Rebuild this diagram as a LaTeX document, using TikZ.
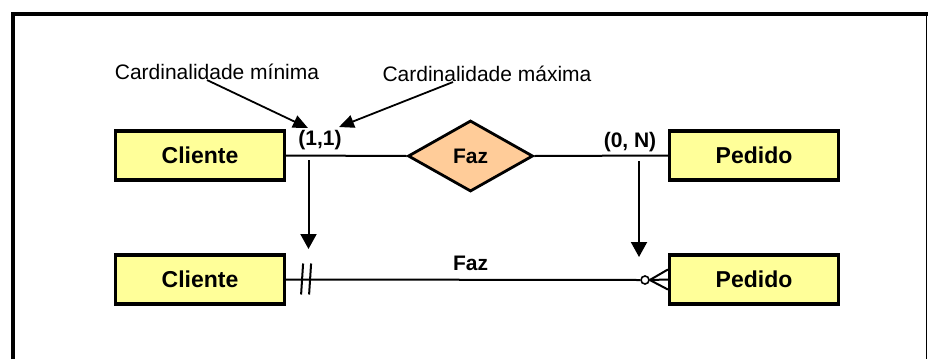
\documentclass[tikz,border=0pt]{standalone}
\usepackage{fontspec}
\setmainfont{Liberation Sans}
\usetikzlibrary{arrows.meta,shapes.geometric,shadows,calc}
\definecolor{entfill}{HTML}{FFFF99}
\definecolor{relfill}{HTML}{FFCC99}
\begin{document}
\begin{tikzpicture}[x=1pt,y=-1pt,
  entity/.style={draw, line width=3.2pt, fill=entfill, minimum width=169pt, minimum height=49pt,
    inner sep=0pt, font=\fontsize{23}{27}\selectfont\bfseries,
    drop shadow={shadow xshift=1.5pt, shadow yshift=-1.5pt, fill=black!30, opacity=1}},
  rel/.style={draw, diamond, line width=2.8pt, fill=relfill, minimum width=125pt, minimum height=71pt,
    inner sep=0pt, font=\fontsize{21}{25}\selectfont\bfseries},
  card/.style={inner sep=0pt, font=\fontsize{21}{25}\selectfont\bfseries},
  note/.style={inner sep=0pt, font=\fontsize{21}{25}\selectfont},
  conn/.style={line width=2pt},
  annot/.style={line width=1.8pt, -{Triangle[length=15pt,width=13pt]}},
  vert/.style={line width=2pt, -{Triangle[length=15pt,width=16pt]}}]
\useasboundingbox (0,0) rectangle (928,359);
\fill[white] (0,0) rectangle (928,359);
% frame
\draw[line width=4.5pt] (13,359) -- (13,14) -- (928,14);
\draw[line width=1.8pt] (926.5,14) -- (926.5,359);
% nodes
\node[entity] (c1) at (200,155.5) {Cliente};
\node[entity] (p1) at (754,155.5) {Pedido};
\node[entity] (c2) at (200,279.5) {Cliente};
\node[entity] (p2) at (754,279.5) {Pedido};
\node[rel] (faz) at (470.5,156) {Faz};
\node[card] (l11) at (320,140) {(1,1)};
\node[card] (l0n) at (630,142) {(0, N)};
\node[note] (cmin) at (217,72) {Cardinalidade mínima};
\node[note] (cmax) at (487,74) {Cardinalidade máxima};
\node[card] (fazlbl) at (470.5,263) {Faz};
% top relation lines
\draw[conn] (c1.east) -- (faz.west);
\draw[conn] (faz.east) -- (p1.west);
% annotation arrows
\coordinate (t1) at (308,128);
\coordinate (t2) at (339,127);
\draw[annot] ($(cmin.south)+(-10,0)$) -- (t1);
\draw[annot] ($(cmax.south)+(-34,0)$) -- (t2);
% vertical arrows
\coordinate (v1s) at (308.5,160);
\coordinate (v1e) at (308.5,249);
\coordinate (v2s) at (639,161);
\coordinate (v2e) at (639,257);
\draw[vert] (v1s) -- (v1e);
\draw[vert] (v2s) -- (v2e);
% bottom relation line with crow's foot notation
\node[circle, draw, line width=1.6pt, fill=white, minimum size=8pt, inner sep=0pt] (o) at (645,280) {};
\draw[conn] (c2.east) -- (o.west);
\draw[conn] (o.east) -- (p2.west);
\draw[conn] ($(c2.east)+(17,-16)$) -- ($(c2.east)+(15,15)$);
\draw[conn] ($(c2.east)+(25,-16)$) -- ($(c2.east)+(23,15)$);
\draw[conn] (o.east) -- ($(p2.west)+(0,-10)$);
\draw[conn] (o.east) -- ($(p2.west)+(0,10)$);
\end{tikzpicture}
\end{document}
